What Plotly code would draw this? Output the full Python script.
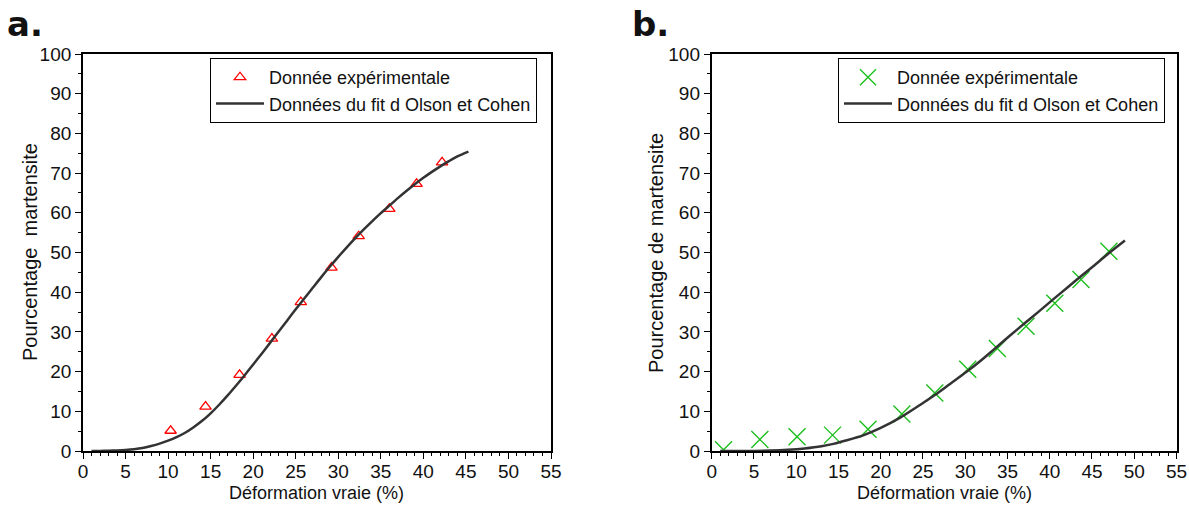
import plotly.graph_objects as go

# --- panel a : experimental points and Olson-Cohen fit
exp_a_x = [10.3, 14.4, 18.4, 22.2, 25.6, 29.2, 32.4, 36.0, 39.2, 42.2]
exp_a_y = [5.1, 11.2, 19.2, 28.3, 37.5, 46.2, 54.1, 61.0, 67.3, 72.7]

fit_a_x = [1, 2, 3, 4, 5, 6, 7, 8, 9, 10, 11, 12, 13, 14, 15, 16, 17, 18, 19, 20, 21, 22, 23,
           24, 25, 26, 27, 28, 29, 30, 31, 32, 33, 34, 35, 36, 37, 38, 39, 40, 41, 42, 43, 44, 45.3]
fit_a_y = [0, 0.02, 0.06, 0.14, 0.27, 0.45, 0.75, 1.25, 1.85, 2.6, 3.5, 4.6, 6.0, 7.6, 9.5,
           11.65, 14.0, 16.5, 19.1, 21.8, 24.5, 27.3, 30.1, 32.9, 35.7, 38.4, 41.1, 43.8, 46.4,
           48.9, 51.3, 53.6, 55.8, 57.9, 59.9, 61.8, 63.7, 65.5, 67.2, 68.8, 70.3, 71.7, 73.0,
           74.2, 75.4]

# --- panel b
exp_b_x = [1.4, 5.7, 10.1, 14.3, 18.5, 22.5, 26.4, 30.3, 33.8, 37.2, 40.6, 43.7, 47.0]
exp_b_y = [0.3, 2.9, 3.6, 4.0, 5.5, 9.3, 14.6, 20.6, 25.8, 31.4, 37.2, 43.2, 50.3]

fit_b_x = [1, 3, 5, 7, 9, 11, 13, 14.4, 16, 18, 20, 22.3, 24.65, 26.4, 28.2, 30.2, 31.75,
           33.3, 35.2, 37.1, 38.8, 40.4, 42.1, 43.8, 45.3, 46.7, 48.9]
fit_b_y = [0, 0, 0.02, 0.1, 0.3, 0.65, 1.2, 1.8, 2.7, 4.0, 5.8, 8.4, 11.6, 14.1, 16.9, 20.0,
           22.6, 25.4, 28.9, 32.3, 35.3, 38.2, 41.2, 44.2, 46.8, 49.3, 53.0]

FONT = "Liberation Sans, Arial"
W, H = 1189, 506

def px(x):
    return x / W

def py(y):
    return 1 - y / H

fig = go.Figure()

fig.add_trace(go.Scatter(x=exp_a_x, y=exp_a_y, mode='markers', name='Donnée expérimentale',
                         marker=dict(symbol='triangle-up-open', size=10, color='#ff0000',
                                     line=dict(width=1.3, color='#ff0000')),
                         xaxis='x', yaxis='y', legend='legend'))
fig.add_trace(go.Scatter(x=fit_a_x, y=fit_a_y, mode='lines', name='Données du fit d Olson et Cohen',
                         line=dict(color='#333333', width=2.5, shape='spline', smoothing=0.8),
                         xaxis='x', yaxis='y', legend='legend'))
fig.add_trace(go.Scatter(x=exp_b_x, y=exp_b_y, mode='markers', name='Donnée expérimentale',
                         marker=dict(symbol='x-thin-open', size=17, color='#1cbf1c',
                                     line=dict(width=1.4, color='#1cbf1c')),
                         xaxis='x2', yaxis='y2', legend='legend2'))
fig.add_trace(go.Scatter(x=fit_b_x, y=fit_b_y, mode='lines', name='Données du fit d Olson et Cohen',
                         line=dict(color='#333333', width=2.5, shape='spline', smoothing=0.8),
                         xaxis='x2', yaxis='y2', legend='legend2'))

y_dom = [py(451), py(54)]

def xax(dom):
    return dict(domain=dom, range=[0, 55], dtick=5, tick0=0, ticks='outside', ticklen=6,
                tickwidth=1.3, tickcolor='black', showline=True, linecolor='black', linewidth=1.8,
                mirror=True, showgrid=False, zeroline=False, automargin=False,
                ticklabelstandoff=-4,
                tickfont=dict(family=FONT, size=19, color='#111'),
                minor=dict(dtick=1, ticks='outside', ticklen=3, tickcolor='black', tickwidth=1))

def yax(anchor):
    return dict(domain=y_dom, range=[0, 100], dtick=10, ticks='outside', ticklen=6,
                tickwidth=1.3, tickcolor='black', showline=True, linecolor='black', linewidth=1.8,
                mirror=True, showgrid=False, zeroline=False, automargin=False, anchor=anchor,
                tickfont=dict(family=FONT, size=19, color='#111'),
                minor=dict(dtick=5, ticks='outside', ticklen=3, tickcolor='black', tickwidth=1))

leg = dict(bgcolor='white', bordercolor='black', borderwidth=1, xanchor='left', yanchor='top',
           font=dict(family=FONT, size=18, color='#111'), tracegroupgap=0, itemwidth=48)

fig.update_layout(
    width=W, height=H, margin=dict(l=0, r=0, t=0, b=0),
    paper_bgcolor='white', plot_bgcolor='white',
    xaxis=dict(xax([px(83), px(551)]), anchor='y'),
    yaxis=yax('x'),
    xaxis2=dict(xax([px(711.7), px(1176.5)]), anchor='y2'),
    yaxis2=yax('x2'),
    legend=dict(leg, x=px(210), y=py(58)),
    legend2=dict(leg, x=px(838), y=py(58)),
)

texts = [
    ("a.", 25, 24, 34, 0, "DejaVu Sans", True),
    ("b.", 650, 24, 34, 0, "DejaVu Sans", True),
    ("Déformation vraie (%)", 316, 493, 18, 0, FONT, False),
    ("Déformation vraie (%)", 944, 493, 18, 0, FONT, False),
    ("Pourcentage  martensite", 30, 252, 20, -90, FONT, False),
    ("Pourcentage de martensite", 656, 253, 20, -90, FONT, False),
]
for t, x, y, s, ang, fam, bold in texts:
    fig.add_annotation(text=f"<b>{t}</b>" if bold else t, x=px(x), y=py(y),
                       xref='paper', yref='paper', showarrow=False, textangle=ang,
                       xanchor='center', yanchor='middle',
                       font=dict(family=fam, size=s, color='#111'))

# drop the browser's default body margin so the figure sits at the window corner
fig.write_html("out.html", config={'displayModeBar': False},
               post_script="document.body.style.margin='0px';")
